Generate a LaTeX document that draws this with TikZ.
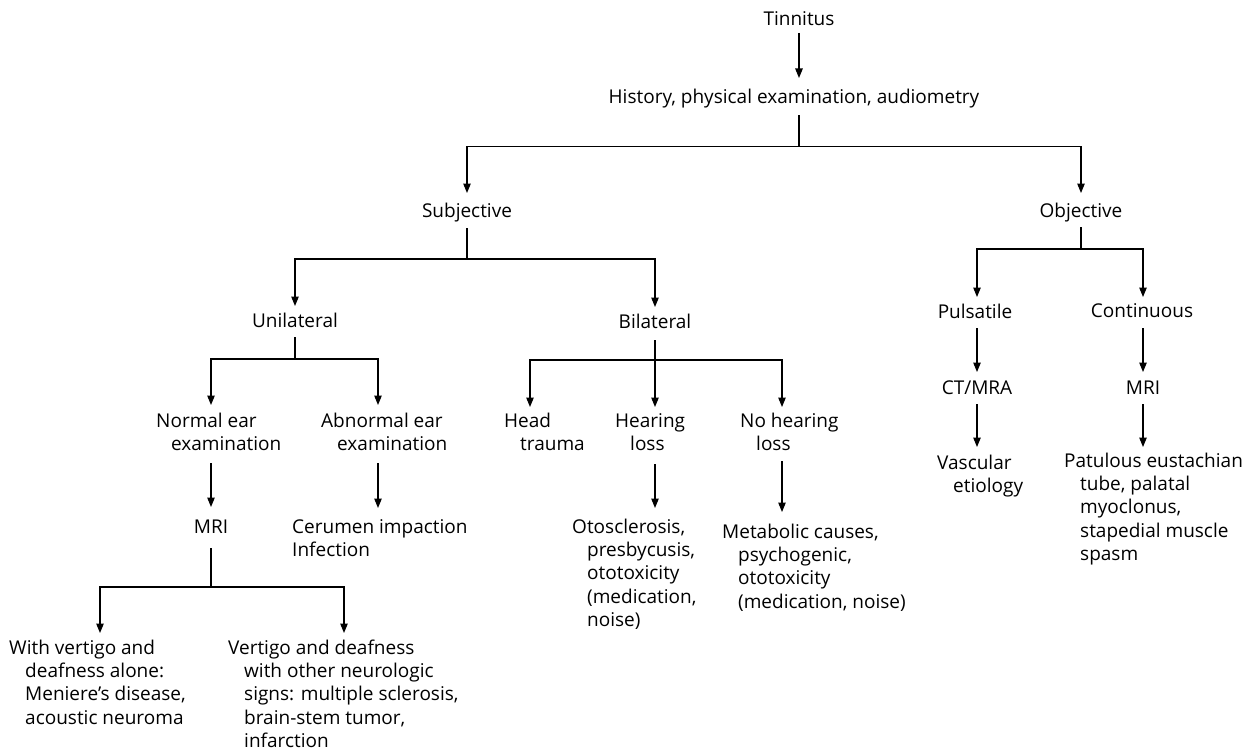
\documentclass[tikz,border=0pt]{standalone}
\usepackage{fontspec}
\setmainfont{Open Sans}
\usetikzlibrary{arrows.meta}
\newcommand\dfs{\fontsize{19}{23.4}\selectfont}
\tikzset{
  lbl/.style={inner sep=0pt, font=\dfs, anchor=base},
  ml/.style={inner sep=0pt, font=\dfs, align=left, anchor=base west},
  ln/.style={line width=1.1pt},
  arr/.style={ln, -{Triangle[length=9.5pt,width=7.5pt]}},
}
\begin{document}
\begin{tikzpicture}[x=1pt,y=-1pt]
\useasboundingbox (0,0) rectangle (1254,752);
% single-line nodes
\node[lbl] (tin)  at (799,26)  {Tinnitus};
\node[lbl] (hist) at (794,103) {History, physical examination, audiometry};
\node[lbl] (subj) at (467,217) {Subjective};
\node[lbl] (obj)  at (1081,217) {Objective};
\node[lbl] (uni)  at (295,327) {Unilateral};
\node[lbl] (bil)  at (655,328) {Bilateral};
\node[lbl] (puls) at (975,318) {Pulsatile};
\node[lbl] (cont) at (1142,317) {Continuous};
\node[lbl] (mril) at (211,533) {MRI};
\node[lbl] (ct)   at (977,394) {CT/MRA};
\node[lbl] (mrir) at (1143,394) {MRI};
% multi-line nodes (hanging indent); placed at the baseline of the last line
\node[ml] (norm) at (156,450.4) {Normal ear\\\hspace*{15pt}examination};
\node[ml] (abn)  at (321,450.4) {Abnormal ear\\\hspace*{16pt}examination};
\node[ml] (cer)  at (292,556.4) {Cerumen impaction\\Infection};
\node[ml] (with) at (9,724.2)   {With vertigo and\\\hspace*{16pt}deafness alone:\\\hspace*{16pt}Meniere’s disease,\\\hspace*{16pt}acoustic neuroma};
\node[ml] (vert) at (228,747.6) {Vertigo and deafness\\\hspace*{16pt}with other neurologic\\\hspace*{16pt}signs: multiple sclerosis,\\\hspace*{16pt}brain-stem tumor,\\\hspace*{16pt}infarction};
\node[ml] (head) at (504,450.4) {Head\\\hspace*{16pt}trauma};
\node[ml] (hear) at (615,450.4) {Hearing\\\hspace*{15pt}loss};
\node[ml] (nohe) at (740,450.4) {No hearing\\\hspace*{16pt}loss};
\node[ml] (oto)  at (572,626.6) {Otosclerosis,\\\hspace*{15pt}presbycusis,\\\hspace*{15pt}ototoxicity\\\hspace*{15pt}(medication,\\\hspace*{15pt}noise)};
\node[ml] (meta) at (722,608.2) {Metabolic causes,\\\hspace*{16pt}psychogenic,\\\hspace*{16pt}ototoxicity\\\hspace*{16pt}(medication, noise)};
\node[ml] (vasc) at (937,492.4) {Vascular\\\hspace*{16pt}etiology};
\node[ml] (patu) at (1064,560.6) {Patulous eustachian\\\hspace*{16pt}tube, palatal\\\hspace*{16pt}myoclonus,\\\hspace*{16pt}stapedial muscle\\\hspace*{16pt}spasm};
% connectors
\draw[arr] (tin.base |- 0,33) -- (tin.base |- 0,78);
\draw[ln] (tin.base |- 0,115) -- (tin.base |- 0,146.5);
\draw[arr] (tin.base |- 0,146.5) -| (subj.base |- 0,193);
\draw[arr] (tin.base |- 0,146.5) -| (obj.base |- 0,193);
% subjective
\draw[ln] (subj.base |- 0,228) -- (subj.base |- 0,259);
\draw[arr] (subj.base |- 0,259) -| (uni.base |- 0,306);
\draw[arr] (subj.base |- 0,259) -| (bil.base |- 0,307);
% unilateral
\draw[ln] (uni.base |- 0,337) -- (uni.base |- 0,359);
\draw[arr] (uni.base |- 0,359) -| (mril.base |- 0,405);
\draw[arr] (uni.base |- 0,359) -| (378,405);
\draw[arr] (mril.base |- 0,463) -- (mril.base |- 0,507);
\draw[arr] (378,463) -- (378,508);
\draw[ln] (mril.base |- 0,548) -- (mril.base |- 0,587);
\draw[arr] (mril.base |- 0,587) -| (100,633);
\draw[arr] (mril.base |- 0,587) -| (344,633);
% bilateral
\draw[ln] (bil.base |- 0,340) -- (bil.base |- 0,360);
\draw[arr] (bil.base |- 0,360) -| (530,407);
\draw[arr] (bil.base |- 0,360) -- (bil.base |- 0,407);
\draw[arr] (bil.base |- 0,360) -| (782,407);
\draw[arr] (bil.base |- 0,464) -- (bil.base |- 0,508);
\draw[arr] (782,461) -- (782,512);
% objective
\draw[ln] (obj.base |- 0,227) -- (obj.base |- 0,249);
\draw[arr] (obj.base |- 0,249) -| (ct.base |- 0,297);
\draw[arr] (obj.base |- 0,249) -| (mrir.base |- 0,297);
\draw[arr] (ct.base |- 0,328) -- (ct.base |- 0,372);
\draw[arr] (ct.base |- 0,404) -- (ct.base |- 0,447);
\draw[arr] (mrir.base |- 0,328) -- (mrir.base |- 0,372);
\draw[arr] (mrir.base |- 0,404) -- (mrir.base |- 0,447);
\end{tikzpicture}
\end{document}
